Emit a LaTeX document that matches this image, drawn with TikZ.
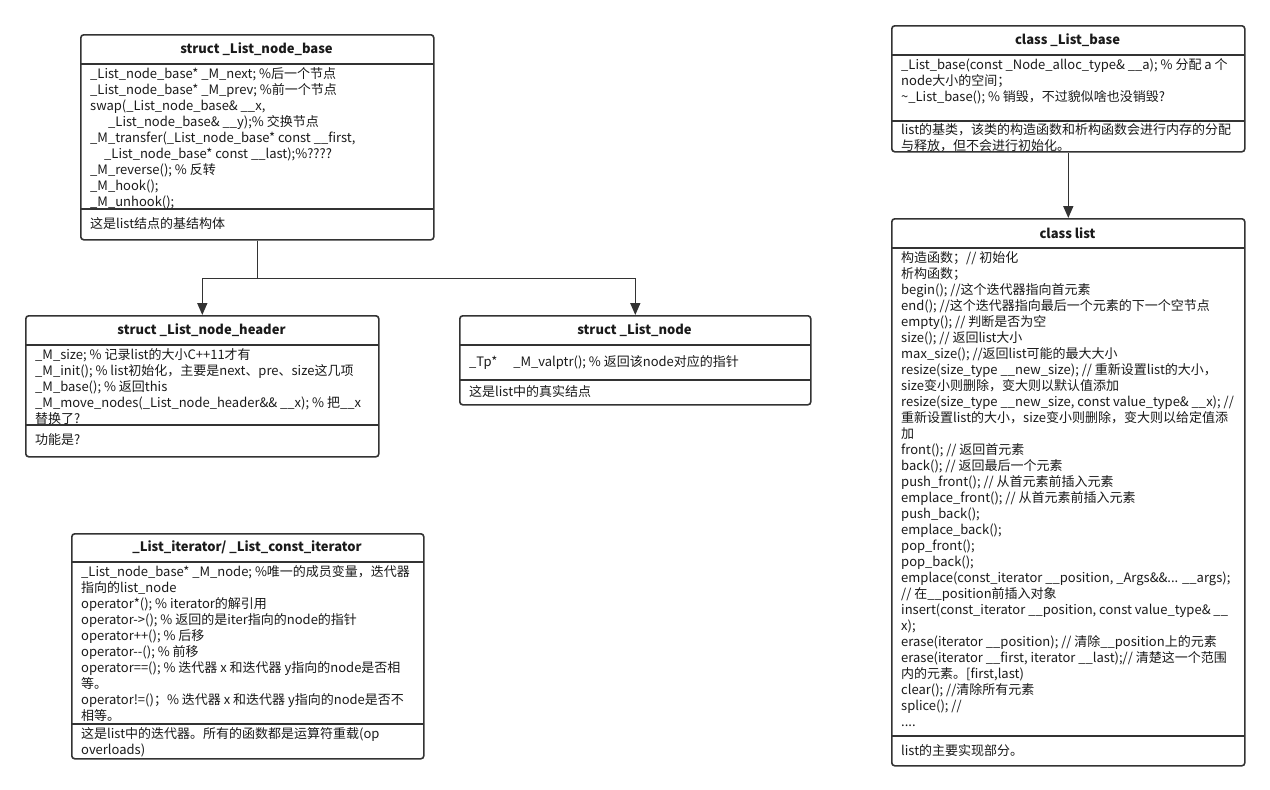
\documentclass[tikz,border=0pt]{standalone}
\usepackage{fontspec}
\setmainfont{Noto Sans CJK SC}
\usetikzlibrary{arrows.meta}
\definecolor{linec}{HTML}{333333}
\definecolor{txt}{HTML}{1A1A1A}
\tikzset{
  umlbox/.style={draw=linec, line width=1.6pt, rounded corners=3pt, fill=white, anchor=north west, inner sep=0pt},
  sepline/.style={draw=linec, line width=1.6pt},
  ttl/.style={font=\bfseries\fontsize{13}{16}\selectfont, inner sep=0pt, text=txt},
  bod/.style={font=\fontsize{13}{16}\selectfont, align=left, anchor=north west, inner sep=0pt, text=txt},
  foot/.style={bod, anchor=west},
  conn/.style={draw=linec, line width=1.6pt},
  arr/.style={conn, -{Triangle[length=12pt,width=10pt]}}
}
\begin{document}
\begin{tikzpicture}[x=1pt,y=-1pt]
\useasboundingbox (0,0) rectangle (1270,790);

% ---- struct _List_node_base
\node[umlbox, minimum width=353pt, minimum height=205pt] (nb) at (80,34) {};
\draw[sepline] (80,64) -- (433,64);
\draw[sepline] (80,209) -- (433,209);
\node[ttl] (nbt) at (256.5,49) {struct \_List\_node\_base};
\node[bod] (nbb) at (90,67.5) {\_List\_node\_base* \_M\_next; \%后一个节点\\
\_List\_node\_base* \_M\_prev; \%前一个节点\\
swap(\_List\_node\_base\& \_\_x,\\
\hspace*{18pt}\_List\_node\_base\& \_\_y);\% 交换节点\\
\_M\_transfer(\_List\_node\_base* const \_\_first,\\
\hspace*{14pt}\_List\_node\_base* const \_\_last);\%????\\
\_M\_reverse(); \% 反转\\
\_M\_hook();\\
\_M\_unhook();};
\node[foot] (nbf) at (90,224) {这是list结点的基结构体};

% ---- struct _List_node_header
\node[umlbox, minimum width=353pt, minimum height=141pt] (nh) at (25,315) {};
\draw[sepline] (25,345) -- (378,345);
\draw[sepline] (25,425) -- (378,425);
\node[ttl] (nht) at (201.5,330) {struct \_List\_node\_header};
\node[bod] (nhb) at (35,348.5) {\_M\_size; \% 记录list的大小C++11才有\\
\_M\_init(); \% list初始化，主要是next、pre、size这几项\\
\_M\_base(); \% 返回this\\
\_M\_move\_nodes(\_List\_node\_header\&\& \_\_x); \% 把\_\_x\\
替换了?};
\node[foot] (nhf) at (35,440) {功能是?};

% ---- struct _List_node
\node[umlbox, minimum width=351pt, minimum height=89pt] (nn) at (459,315) {};
\draw[sepline] (459,345) -- (810,345);
\draw[sepline] (459,380) -- (810,380);
\node[ttl] (nnt) at (634.5,330) {struct \_List\_node};
\node[foot] (nnb) at (469,362) {\_Tp*\hspace*{16pt}\_M\_valptr(); \% 返回该node对应的指针};
\node[foot] (nnf) at (469,392) {这是list中的真实结点};

% ---- iterator
\node[umlbox, minimum width=352pt, minimum height=225pt] (it) at (71,533) {};
\draw[sepline] (71,562) -- (423,562);
\draw[sepline] (71,724) -- (423,724);
\node[ttl] (itt) at (247,547.5) {\_List\_iterator/ \_List\_const\_iterator};
\node[bod] (itb) at (81,565.5) {\_List\_node\_base* \_M\_node; \%唯一的成员变量，迭代器\\
指向的list\_node\\
operator*(); \% iterator的解引用\\
operator->(); \% 返回的是iter指向的node的指针\\
operator++(); \% 后移\\
operator-{}-(); \% 前移\\
operator==(); \% 迭代器 x 和迭代器 y指向的node是否相\\
等。\\
operator!=()；\% 迭代器 x 和迭代器 y指向的node是否不\\
相等。};
\node[bod] (itf) at (81,727) {这是list中的迭代器。所有的函数都是运算符重载(op\\
overloads)};

% ---- class _List_base
\node[umlbox, minimum width=353pt, minimum height=126pt] (lb) at (891,25) {};
\draw[sepline] (891,55) -- (1244,55);
\draw[sepline] (891,121) -- (1244,121);
\node[ttl] (lbt) at (1067.5,40) {class \_List\_base};
\node[bod] (lbb) at (901,58.5) {\_List\_base(const \_Node\_alloc\_type\& \_\_a); \% 分配 a 个\\
node大小的空间；\\
\textasciitilde\_List\_base(); \% 销毁，不过貌似啥也没销毁?};
\node[bod] (lbf) at (901,123.5) {list的基类，该类的构造函数和析构函数会进行内存的分配\\
与释放，但不会进行初始化。};

% ---- class list
\node[umlbox, minimum width=353pt, minimum height=547pt] (ls) at (891,218) {};
\draw[sepline] (891,248) -- (1244,248);
\draw[sepline] (891,736) -- (1244,736);
\node[ttl] (lst) at (1067.5,233) {class list};
\node[bod] (lsb) at (901,251.5) {构造函数；// 初始化\\
析构函数；\\
begin(); //这个迭代器指向首元素\\
end(); //这个迭代器指向最后一个元素的下一个空节点\\
empty(); // 判断是否为空\\
size(); // 返回list大小\\
max\_size(); //返回list可能的最大大小\\
resize(size\_type \_\_new\_size); // 重新设置list的大小，\\
size变小则删除，变大则以默认值添加\\
resize(size\_type \_\_new\_size, const value\_type\& \_\_x); //\\
重新设置list的大小，size变小则删除，变大则以给定值添\\
加\\
front(); // 返回首元素\\
back(); // 返回最后一个元素\\
push\_front(); // 从首元素前插入元素\\
emplace\_front(); // 从首元素前插入元素\\
push\_back();\\
emplace\_back();\\
pop\_front();\\
pop\_back();\\
emplace(const\_iterator \_\_position, \_Args\&\&... \_\_args);\\
// 在\_\_position前插入对象\\
insert(const\_iterator \_\_position, const value\_type\& \_\_\\
x);\\
erase(iterator \_\_position); // 清除\_\_position上的元素\\
erase(iterator \_\_first, iterator \_\_last);// 清楚这一个范围\\
内的元素。[first,last)\\
clear(); //清除所有元素\\
splice(); //\\
....};
\node[foot] (lsf) at (901,750.5) {list的主要实现部分。};

% ---- connectors
\draw[arr] (nb.south) -- ++(0,38) -| (nh.north);
\draw[arr] (nb.south) -- ++(0,38) -| (nn.north);
\draw[arr] (lb.south) -- (ls.north);
\end{tikzpicture}
\end{document}
